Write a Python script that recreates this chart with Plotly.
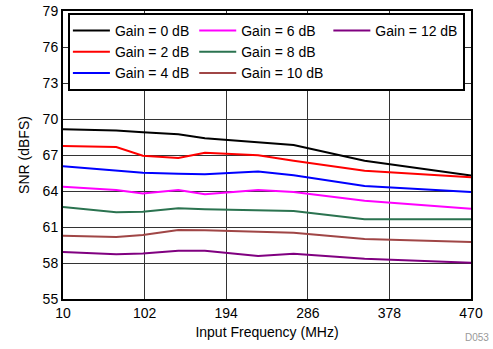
import plotly.graph_objs as go

freq = [10, 70, 100, 140, 170, 230, 270, 350, 470]

snr_0 = [69.14, 69.05, 68.89, 68.72, 68.39, 68.03, 67.83, 66.53, 65.30]
snr_2 = [67.75, 67.67, 66.94, 66.75, 67.19, 66.97, 66.53, 65.69, 65.14]
snr_4 = [66.06, 65.69, 65.53, 65.44, 65.39, 65.62, 65.31, 64.42, 63.92]
snr_6 = [64.36, 64.08, 63.80, 64.08, 63.72, 64.08, 63.92, 63.19, 62.53]
snr_8 = [62.67, 62.22, 62.28, 62.56, 62.47, 62.42, 62.33, 61.64, 61.64]
snr_10 = [60.28, 60.17, 60.33, 60.75, 60.72, 60.64, 60.53, 60.00, 59.75]
snr_12 = [58.92, 58.72, 58.80, 59.03, 59.03, 58.58, 58.78, 58.36, 58.03]

names = ["Gain = 0 dB", "Gain = 2 dB", "Gain = 4 dB", "Gain = 6 dB",
         "Gain = 8 dB", "Gain = 10 dB", "Gain = 12 dB"]
series = [snr_0, snr_2, snr_4, snr_6, snr_8, snr_10, snr_12]
colors = ["#000000", "#ff0000", "#0000ff", "#ff00ff", "#2b7350", "#a04646", "#800080"]
groups = ["a", "a", "a", "b", "b", "b", "c"]

x_ticks = [10, 102, 194, 286, 378, 470]
y_ticks = [55, 58, 61, 64, 67, 70, 73, 76, 79]

font = "Liberation Sans, Arial, sans-serif"

fig = go.Figure()
for name, ys, col, grp in zip(names, series, colors, groups):
    fig.add_trace(go.Scatter(
        x=freq, y=ys, name=name, mode="lines",
        legendgroup=grp,
        line=dict(color=col, width=2)
    ))

fig.update_layout(
    width=493, height=349,
    margin=dict(l=63, r=22, t=11, b=50),
    paper_bgcolor="white", plot_bgcolor="white",
    font=dict(family=font, size=14, color="black"),
    legend=dict(
        orientation="h", traceorder="grouped",
        x=0.012, y=0.993, xanchor="left", yanchor="top",
        bgcolor="white", bordercolor="black", borderwidth=2,
        font=dict(size=14), tracegroupgap=0, itemwidth=37,
    ),
    annotations=[dict(
        text="D053", x=1, y=0, xref="paper", yref="paper",
        xshift=20, yshift=-46, showarrow=False,
        font=dict(size=10, color="#999999"), xanchor="right", yanchor="bottom"
    )]
)
fig.update_xaxes(
    range=[10, 470], tickvals=x_ticks, ticks="",
    showgrid=True, gridcolor="#333333", gridwidth=1,
    showline=True, linecolor="black", linewidth=2, mirror=True,
    zeroline=False, automargin=False,
    title=dict(text="Input Frequency (MHz)", standoff=7, font=dict(size=14)),
)
fig.update_yaxes(
    range=[55, 79], tickvals=y_ticks, ticks="",
    showgrid=True, gridcolor="#333333", gridwidth=1,
    showline=True, linecolor="black", linewidth=2, mirror=True,
    zeroline=False, automargin=False,
    title=dict(text="SNR (dBFS)", standoff=10, font=dict(size=14)),
)

fig.write_html("out.html", config={"displayModeBar": False},
               post_script="document.body.style.margin = '0';")
